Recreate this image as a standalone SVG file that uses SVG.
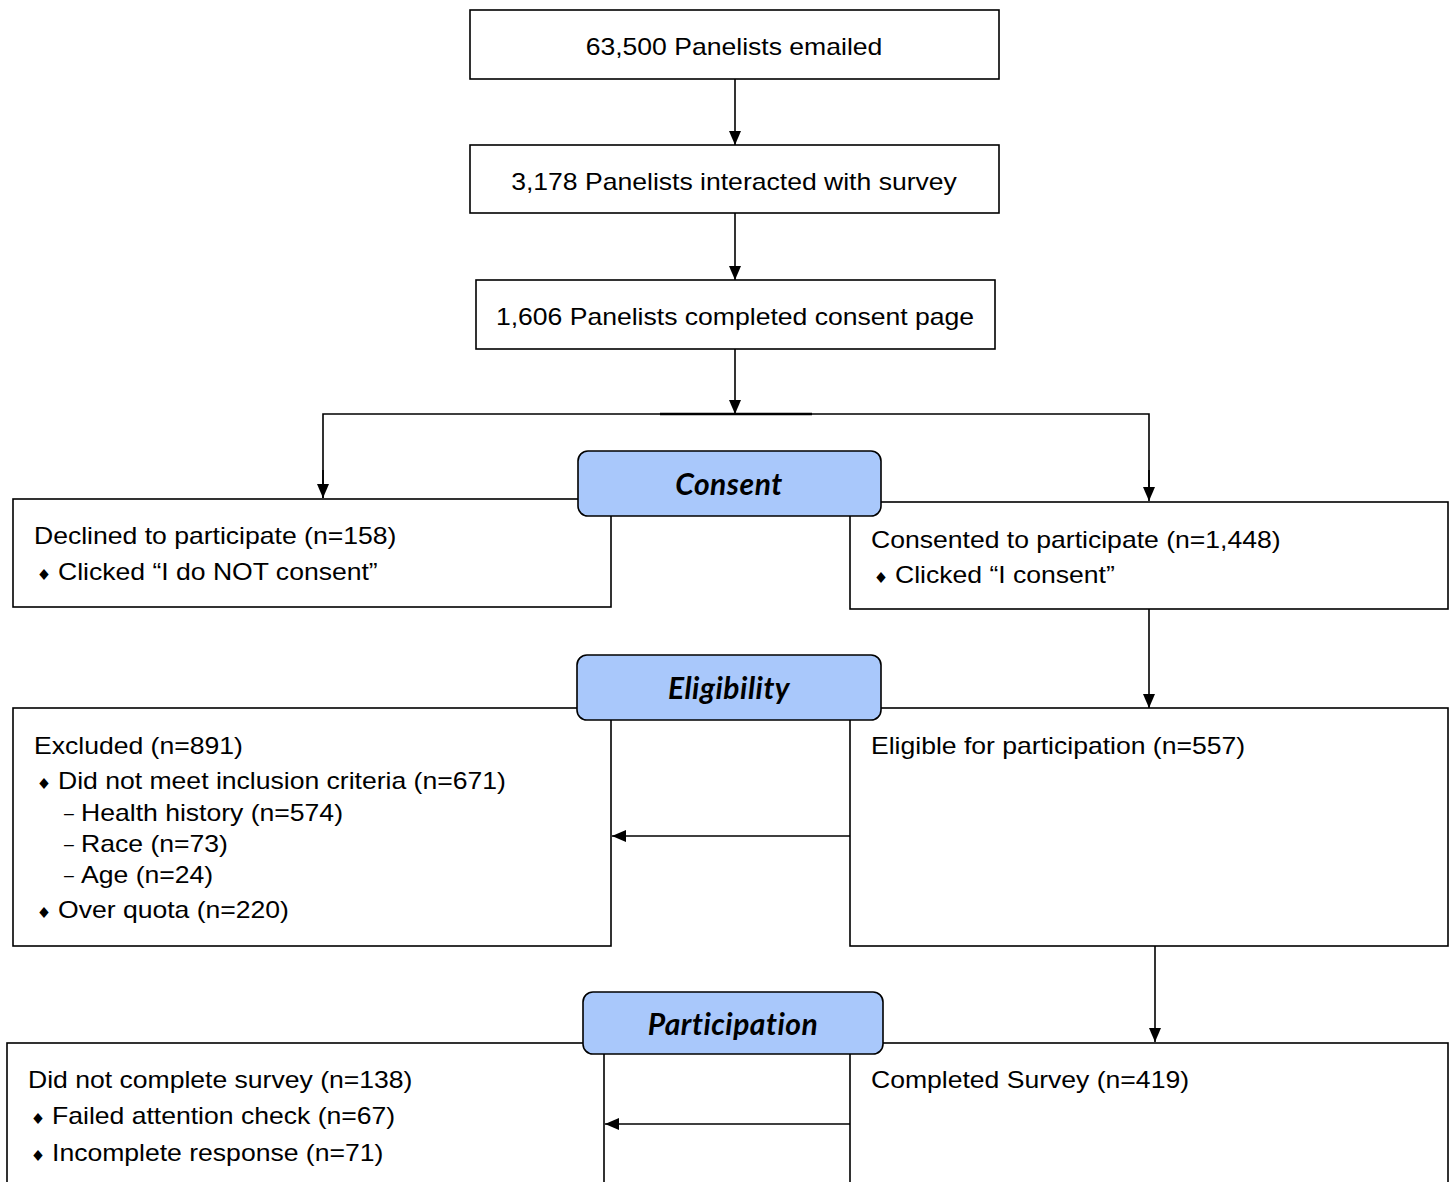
<svg xmlns="http://www.w3.org/2000/svg" width="1456" height="1182" viewBox="0 0 1456 1182">
<style>
.box{fill:#fff;stroke:#000;stroke-width:1.6}
.hdr{fill:#a9c8fb;stroke:#000;stroke-width:1.6}
.t{font-family:"Liberation Sans",Arial,sans-serif;font-size:24px;fill:#000}
.c{text-anchor:middle}
.h{font-family:Lato,"Open Sans",sans-serif;font-size:30px;font-weight:bold;font-style:italic;letter-spacing:0.5px;text-anchor:middle;fill:#000}
.b{font-family:"DejaVu Sans",sans-serif;font-size:15px;fill:#000}
.d{font-family:"Liberation Sans",Arial,sans-serif;font-size:16px;fill:#000}
.ln{stroke:#000;stroke-width:1.6;fill:none}
</style>
<defs>
<marker id="ahs" markerWidth="14" markerHeight="12" refX="14" refY="6" orient="auto" markerUnits="userSpaceOnUse" viewBox="0 0 14 12">
<path d="M0,0 L14,6 L0,12 Z" fill="#000"/>
</marker>
</defs>
<rect width="1456" height="1182" fill="#fff"/>
<g id="connectors">
<line class="ln" x1="735" y1="79" x2="735" y2="145" marker-end="url(#ahs)"/>
<line class="ln" x1="735" y1="213" x2="735" y2="280" marker-end="url(#ahs)"/>
<line class="ln" x1="735" y1="349" x2="735" y2="414" marker-end="url(#ahs)"/>
<polyline class="ln" points="323,498 323,414 1149,414 1149,498"/>
<line x1="660" y1="414" x2="812" y2="414" stroke="#000" stroke-width="2.6"/>
<line class="ln" x1="323" y1="470" x2="323" y2="498" marker-end="url(#ahs)"/>
<line class="ln" x1="1149" y1="470" x2="1149" y2="501" marker-end="url(#ahs)"/>
<line class="ln" x1="1149" y1="609" x2="1149" y2="708" marker-end="url(#ahs)"/>
<line class="ln" x1="850" y1="836" x2="612" y2="836" marker-end="url(#ahs)"/>
<line class="ln" x1="1155" y1="946" x2="1155" y2="1042" marker-end="url(#ahs)"/>
<line class="ln" x1="850" y1="1124" x2="605" y2="1124" marker-end="url(#ahs)"/>
</g>
<g id="emailed">
<rect class="box" x="470" y="10" width="529" height="69"/>
<g transform="translate(734 0) scale(1.107 1)"><text class="t c" x="0" y="55">63,500 Panelists emailed</text></g>
</g>
<g id="interacted">
<rect class="box" x="470" y="145" width="529" height="68"/>
<g transform="translate(734 0) scale(1.107 1)"><text class="t c" x="0" y="190">3,178 Panelists interacted with survey</text></g>
</g>
<g id="consentpage">
<rect class="box" x="476" y="280" width="519" height="69"/>
<g transform="translate(735 0) scale(1.107 1)"><text class="t c" x="0" y="325">1,606 Panelists completed consent page</text></g>
</g>
<g id="declined">
<rect class="box" x="13" y="499" width="598" height="108"/>
<g transform="translate(34 0) scale(1.107 1)">
<text class="t" x="0" y="544">Declined to participate (n=158)</text>
<text class="b" x="2.2" y="580">♦</text>
<text class="t" x="21.7" y="580">Clicked “I do NOT consent”</text>
</g>
</g>
<g id="consented">
<rect class="box" x="850" y="502" width="598" height="107"/>
<g transform="translate(871 0) scale(1.107 1)">
<text class="t" x="0" y="548">Consented to participate (n=1,448)</text>
<text class="b" x="2.2" y="583">♦</text>
<text class="t" x="21.7" y="583">Clicked “I consent”</text>
</g>
</g>
<g id="consent-hdr">
<rect class="hdr" x="578" y="451" width="303" height="65" rx="10"/>
<text class="h" x="729" y="495">Consent</text>
</g>
<g id="excluded">
<rect class="box" x="13" y="708" width="598" height="238"/>
<g transform="translate(34 0) scale(1.107 1)">
<text class="t" x="0" y="754">Excluded (n=891)</text>
<text class="b" x="2.2" y="789">♦</text>
<text class="t" x="21.7" y="789">Did not meet inclusion criteria (n=671)</text>
<text class="d" x="27" y="819">–</text>
<text class="t" x="42.5" y="821">Health history (n=574)</text>
<text class="d" x="27" y="850">–</text>
<text class="t" x="42.5" y="852">Race (n=73)</text>
<text class="d" x="27" y="881">–</text>
<text class="t" x="42.5" y="883">Age (n=24)</text>
<text class="b" x="2.2" y="918">♦</text>
<text class="t" x="21.7" y="918">Over quota (n=220)</text>
</g>
</g>
<g id="eligible">
<rect class="box" x="850" y="708" width="598" height="238"/>
<g transform="translate(871 0) scale(1.107 1)"><text class="t" x="0" y="754">Eligible for participation (n=557)</text></g>
</g>
<g id="eligibility-hdr">
<rect class="hdr" x="577" y="655" width="304" height="65" rx="10"/>
<text class="h" x="729" y="699">Eligibility</text>
</g>
<g id="notcomplete">
<rect class="box" x="7" y="1043" width="597" height="150"/>
<g transform="translate(28 0) scale(1.107 1)">
<text class="t" x="0" y="1088">Did not complete survey (n=138)</text>
<text class="b" x="2.2" y="1124">♦</text>
<text class="t" x="21.7" y="1124">Failed attention check (n=67)</text>
<text class="b" x="2.2" y="1161">♦</text>
<text class="t" x="21.7" y="1161">Incomplete response (n=71)</text>
</g>
</g>
<g id="completed">
<rect class="box" x="850" y="1043" width="598" height="150"/>
<g transform="translate(871 0) scale(1.107 1)"><text class="t" x="0" y="1088">Completed Survey (n=419)</text></g>
</g>
<g id="participation-hdr">
<rect class="hdr" x="583" y="992" width="300" height="62" rx="10"/>
<text class="h" x="733" y="1035">Participation</text>
</g>
</svg>
